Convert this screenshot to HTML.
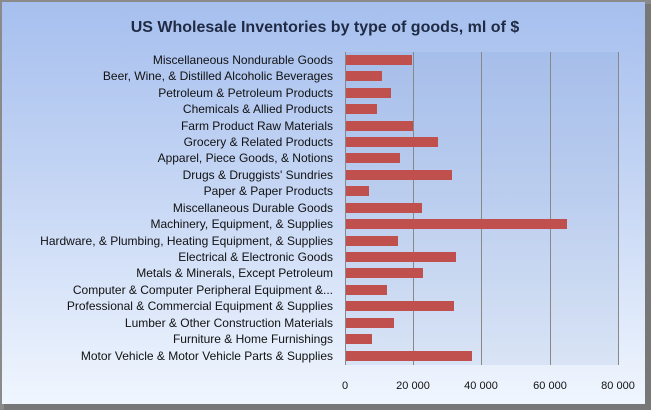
<!DOCTYPE html>
<html><head><meta charset="utf-8"><style>
html,body{margin:0;padding:0;width:651px;height:410px;overflow:hidden;background:#fff}
</style></head><body>
<svg width="651" height="410" xmlns="http://www.w3.org/2000/svg" font-family="Liberation Sans, sans-serif">
<defs>
<linearGradient id="bg" x1="0" y1="0" x2="0" y2="1">
<stop offset="0" stop-color="#a6bfee"/><stop offset="0.5" stop-color="#c8d8f5"/><stop offset="1" stop-color="#f0f6fe"/>
</linearGradient>
</defs>
<rect x="0" y="0" width="651" height="410" fill="#8a8a8a"/>
<rect x="2" y="2" width="643" height="402" fill="url(#bg)"/>
<rect x="645" y="4" width="6" height="406" fill="#777"/>
<rect x="4" y="404" width="647" height="6" fill="#777"/>
<rect x="345" y="52" width="273" height="313" fill="#6f8fc8" opacity="0.12"/>
<g stroke="#888" stroke-width="1">
<line x1="345.5" y1="52" x2="345.5" y2="365"/>
<line x1="413.5" y1="52" x2="413.5" y2="365"/>
<line x1="481.5" y1="52" x2="481.5" y2="365"/>
<line x1="550.5" y1="52" x2="550.5" y2="365"/>
<line x1="618.5" y1="52" x2="618.5" y2="365"/>
</g>
<text x="325" y="32" text-anchor="middle" font-size="16" font-weight="bold" fill="#1f2a44">US Wholesale Inventories by type of goods, ml of $</text>
<g fill="#c0504d">
<rect x="346" y="55" width="66" height="10"/>
<rect x="346" y="71" width="36" height="10"/>
<rect x="346" y="88" width="45" height="10"/>
<rect x="346" y="104" width="31" height="10"/>
<rect x="346" y="121" width="67" height="10"/>
<rect x="346" y="137" width="92" height="10"/>
<rect x="346" y="153" width="54" height="10"/>
<rect x="346" y="170" width="106" height="10"/>
<rect x="346" y="186" width="23" height="10"/>
<rect x="346" y="203" width="76" height="10"/>
<rect x="346" y="219" width="221" height="10"/>
<rect x="346" y="236" width="52" height="10"/>
<rect x="346" y="252" width="110" height="10"/>
<rect x="346" y="268" width="77" height="10"/>
<rect x="346" y="285" width="41" height="10"/>
<rect x="346" y="301" width="108" height="10"/>
<rect x="346" y="318" width="48" height="10"/>
<rect x="346" y="334" width="26" height="10"/>
<rect x="346" y="351" width="126" height="10"/>
</g>
<g font-size="12" fill="#111" text-anchor="end">
<text x="333" y="64">Miscellaneous Nondurable Goods</text>
<text x="333" y="80">Beer, Wine, &amp; Distilled Alcoholic Beverages</text>
<text x="333" y="97">Petroleum &amp; Petroleum Products</text>
<text x="333" y="113">Chemicals &amp; Allied Products</text>
<text x="333" y="130">Farm Product Raw Materials</text>
<text x="333" y="146">Grocery &amp; Related Products</text>
<text x="333" y="162">Apparel, Piece Goods, &amp; Notions</text>
<text x="333" y="179">Drugs &amp; Druggists' Sundries</text>
<text x="333" y="195">Paper &amp; Paper Products</text>
<text x="333" y="212">Miscellaneous Durable Goods</text>
<text x="333" y="228">Machinery, Equipment, &amp; Supplies</text>
<text x="333" y="245">Hardware, &amp; Plumbing, Heating Equipment, &amp; Supplies</text>
<text x="333" y="261">Electrical &amp; Electronic Goods</text>
<text x="333" y="277">Metals &amp; Minerals, Except Petroleum</text>
<text x="333" y="294">Computer &amp; Computer Peripheral Equipment &amp;...</text>
<text x="333" y="310">Professional &amp; Commercial Equipment &amp; Supplies</text>
<text x="333" y="327">Lumber &amp; Other Construction Materials</text>
<text x="333" y="343">Furniture &amp; Home Furnishings</text>
<text x="333" y="360">Motor Vehicle &amp; Motor Vehicle Parts &amp; Supplies</text>
</g>
<g font-size="11" fill="#111" text-anchor="middle">
<text x="345" y="389">0</text>
<text x="413" y="389">20 000</text>
<text x="481" y="389">40 000</text>
<text x="550" y="389">60 000</text>
<text x="618" y="389">80 000</text>
</g>
</svg>
</body></html>
